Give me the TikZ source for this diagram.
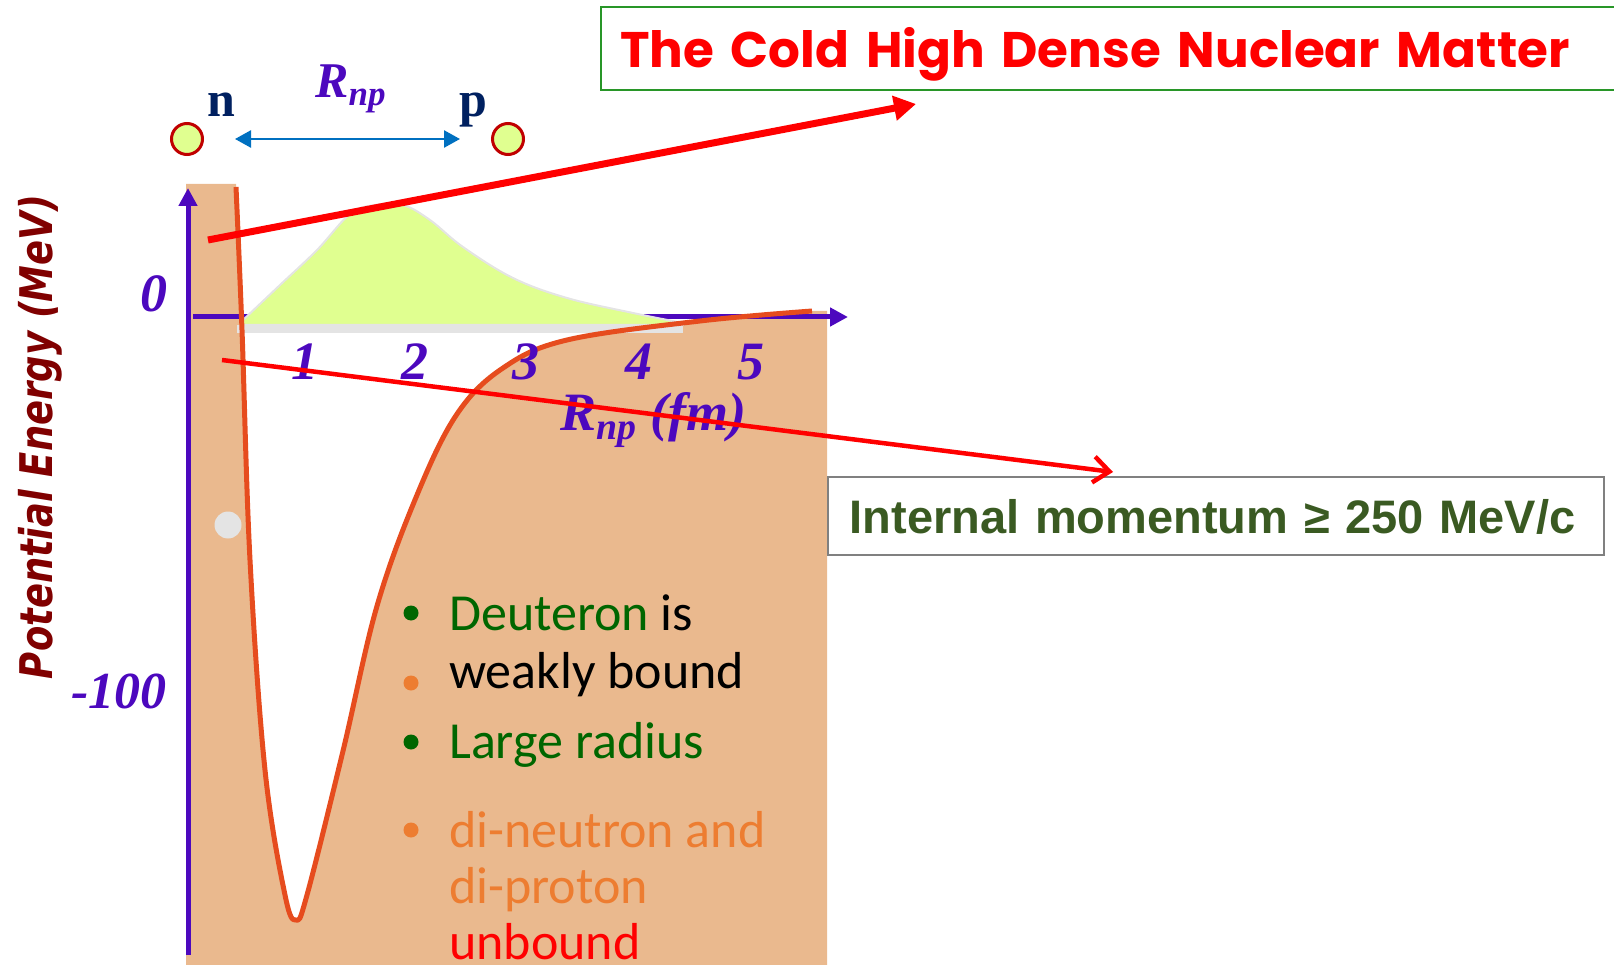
\documentclass[tikz,border=0pt]{standalone}
\usepackage{fontspec}
\setmainfont{Liberation Serif}
\newfontfamily\calfont{Carlito}
\newfontfamily\arialfont{Liberation Sans}
\newfontfamily\comicfont{Poppins}
\newfontfamily\axfont[FakeStretch=0.82]{DejaVu Sans}
\usepackage{tikz}
\usetikzlibrary{
    arrows.meta
}
\definecolor{axpurple}{RGB}{76,8,190}
\definecolor{nucnavy}{RGB}{0,32,96}
\definecolor{sepblue}{RGB}{0,112,192}
\definecolor{ringred}{RGB}{192,0,0}
\definecolor{wavelime}{RGB}{224,255,144}
\definecolor{peach}{RGB}{234,185,142}
\definecolor{wellred}{RGB}{230,76,30}
\definecolor{edgegray}{RGB}{228,228,228}
\definecolor{boxgreen}{RGB}{40,150,40}
\definecolor{momgreen}{RGB}{58,90,34}
\definecolor{dgreen}{RGB}{0,102,0}
\definecolor{borange}{RGB}{237,125,49}
\definecolor{ylabred}{RGB}{128,0,0}
\newcommand{\fs}[1]{\fontsize{#1}{#1}\selectfont}

\tikzset{
  axis/.style={axpurple, line width=5pt, -{Triangle[length=18pt,width=18pt]}},
  tick/.style={axpurple, inner sep=0pt, anchor=base, font={\fs{54}\bfseries\itshape}},
  nucleon/.style={circle, draw=ringred, fill=wavelime, line width=3pt, minimum size=31pt, inner sep=0pt},
  sep/.style={sepblue, line width=2.5pt, {Triangle[length=16pt,width=17pt]}-{Triangle[length=16pt,width=17pt]}, shorten <=31pt, shorten >=31pt},
  nuclabel/.style={nucnavy, inner sep=0pt, anchor=base west, font={\fs{50}\bfseries}},
  rlabel/.style={axpurple, inner sep=0pt, anchor=base west, font={\fs{50}\bfseries\itshape}},
  well/.style={wellred, line width=5pt, line join=round},
  wave/.style={fill=wavelime, draw=edgegray, line width=2pt},
  bigred/.style={red, line width=7pt, -{Triangle[length=22pt,width=24pt]}},
  thinred/.style={red, line width=4.5pt, -{Straight Barb[length=16pt,width=26pt]}},
  titlebox/.style={draw=boxgreen, line width=2pt, anchor=west, minimum height=83pt, text width=1000pt, text height=38pt, text depth=0pt, inner xsep=19pt, align=left, text=red, font={\comicfont\fs{50}\bfseries}},
  mombox/.style={draw=gray, line width=1.5pt, anchor=west, minimum height=78pt, text width=732pt, text height=34pt, text depth=0pt, inner xsep=22pt, align=left, text=momgreen, font={\arialfont\fs{47}\bfseries}},
  dot/.style={circle, minimum size=15pt, inner sep=0pt},
  bullettext/.style={inner sep=0pt, anchor=base west, font={\calfont\fs{52}}},
  ylabel/.style={rotate=90, anchor=base, inner sep=0pt, text=ylabred, font={\axfont\fs{45}\bfseries\itshape}}
}

\begin{document}
\begin{tikzpicture}[x=1pt,y=-1pt]
\useasboundingbox (0,0) rectangle (1614,965);

% region under the potential
\fill[peach] (186,184) -- (236,184) -- plot[smooth,tension=0.6] coordinates {
  (236,187) (242,330) (250,560) (265,770) (285,895) (296,920)
  (307,895) (343,751) (377,606) (417,495) (457,414) (503,368) (567,340) (700,321) (812,311)}
  -- (827,311) -- (827,965) -- (186,965) -- cycle;

\fill[edgegray] (237,325) rectangle (683,333);
\coordinate (xstart) at (193,317);
\coordinate (xend) at (848,317);
\draw[axis] (xstart) -- (xend);

% wave function
\filldraw[wave] (243,325) -- plot[smooth,tension=0.6] coordinates {
  (243,320) (280,285) (317,250) (350,214) (375,205) (403,205) (430,220) (463,247)
  (513,278) (567,298) (633,313) (683,323)} -- (683,325) -- cycle;

\draw[well] plot[smooth,tension=0.6] coordinates {
  (236,187) (242,330) (250,560) (265,770) (285,895) (296,920)
  (307,895) (343,751) (377,606) (417,495) (457,414) (503,368) (567,340) (700,321) (812,311)};

\coordinate (ystart) at (188,955);
\coordinate (yend) at (188,188);
\draw[axis] (ystart) -- (yend);
\fill[edgegray] (228,525) circle (13.5pt);

\node[nucleon] (neutron) at (187,139) {};
\node[nucleon] (proton) at (508,139) {};
\draw[sep] (neutron) -- (proton);
\node[nuclabel] (nlab) at (207,117) {n};
\node[nuclabel] (plab) at (459,117) {p};
\node[rlabel] (rnp) at (315,98) {R\textsubscript{np}};

\node[tick, anchor=base east] (zero) at (168,312) {0};
\node[tick, anchor=base east, font={\fs{52}\bfseries\itshape}] (hundred) at (167,708) {-100};
\foreach \x/\t in {305/1,415/2,526/3,639/4,751/5}
  \node[tick] (tick\t) at (\x,380) {\t};
\node[rlabel, font={\fs{54}\bfseries\itshape}] (rfm) at (560,430) {R\textsubscript{np} (fm)};

\node[ylabel] (ylab) at (52,437) {Potential Energy (MeV)};

\node[dot, fill=dgreen] (dot1) at (411,613) {};
\node[dot, fill=borange] (dot2) at (411,683) {};
\node[dot, fill=dgreen] (dot3) at (411,742) {};
\node[dot, fill=borange] (dot4) at (411,830) {};
\node[bullettext, text=dgreen] (deut) at (449,630) {Deuteron \textcolor{black}{is}};
\node[bullettext] (weak) at (449,688) {weakly bound};
\node[bullettext, text=dgreen] (large) at (449,758) {Large radius};
\node[bullettext, text=borange] (dineut) at (449,847) {di-neutron and};
\node[bullettext, text=borange] (diprot) at (449,903) {di-proton};
\node[bullettext, text=red] (unb) at (449,959) {unbound};

\node[titlebox] (title) at (600,48.5) {The Cold High Dense Nuclear Matter};
\node[mombox] (momentum) at (827,516) {Internal momentum ≥ 250 MeV/c};

\coordinate (coldstart) at (208,240);
\coordinate (coldtip) at (916,104);
\draw[bigred] (coldstart) -- (coldtip);
\coordinate (momstart) at (222,360);
\coordinate (momtip) at (1113,472);
\draw[thinred] (momstart) -- (momtip);
\end{tikzpicture}
\end{document}
